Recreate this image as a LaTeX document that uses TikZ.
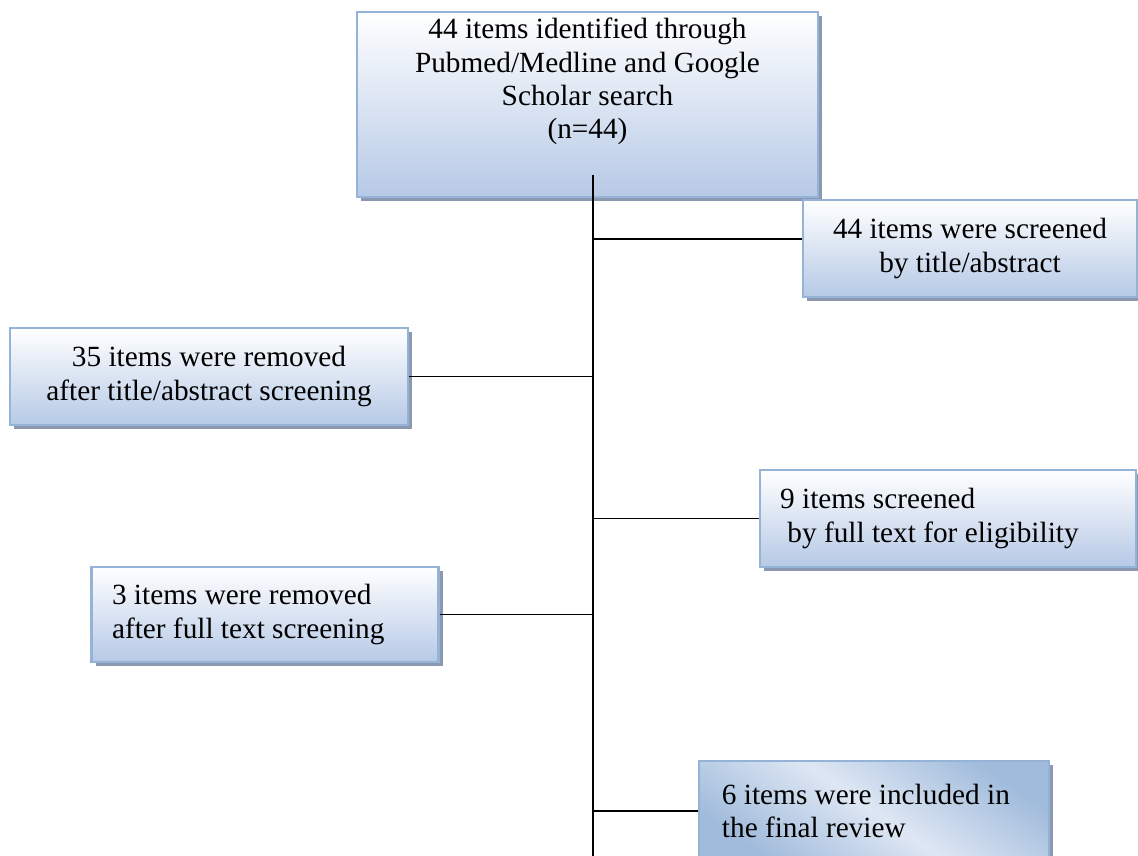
\documentclass[tikz,border=0pt]{standalone}
\usepackage{fontspec}
\setmainfont{Liberation Serif}
\usepackage{tikz}
\usetikzlibrary{shadows,calc}
\definecolor{boxline}{RGB}{149,179,215}
\definecolor{boxfill}{RGB}{182,201,230}
\definecolor{boxshadow}{RGB}{140,152,176}
\tikzset{
  box/.style={draw=boxline,line width=0.9pt,top color=white,bottom color=boxfill,
    general shadow={fill=boxshadow,shadow xshift=1.7pt,shadow yshift=-1.7pt},
    font=\fontsize{12.3}{13.9}\selectfont,minimum height=40.7pt,inner ysep=0pt},
  leftbox/.style={box,align=flush left,inner xsep=8.6pt},
  link/.style={line width=0.8pt}
}
\begin{document}
\begin{tikzpicture}[x=0.42pt,y=-0.42pt]
      \useasboundingbox (0,0) rectangle (1138,855);
      \node[box,align=center,minimum width=193.6pt,minimum height=77.7pt,text depth=22pt] (search) at (587.5,104.5)
        {44 items identified through\\Pubmed/Medline and Google\\Scholar search\\(n=44)};
      \node[box,align=center,minimum width=140.3pt] (screenA) at (970,248.5)
        {44 items were screened\\by title/abstract};
      \node[box,align=center,minimum width=167.2pt] (removedA) at (209,376.5)
        {35 items were removed\\after title/abstract screening};
      \node[leftbox,text width=141pt] (screenB) at (948,518.5)
        {9 items screened\\\hspace{0.25em}by full text for eligibility};
      \node[leftbox,text width=128.5pt,minimum height=39.9pt] (removedB) at (265,614.5)
        {3 items were removed\\after full text screening};
      \node[leftbox,text width=127.7pt,inner xsep=9.6pt,minimum height=42pt,
        top color=boxline!90!white,bottom color=boxline!90!white,middle color=boxfill!45!white,shading angle=-35] (included) at (874,811)
        {6 items were included in\\the final review};
      \coordinate (spinetop) at (593,175);
      \coordinate (spinebot) at (593,860);
      \draw[link] (spinetop) -- (spinebot);
      \draw[link] ([yshift=4pt]screenA.west) -- ([yshift=4pt]screenA.west -| spinetop);
      \draw[link] (removedA.east) -- (removedA.east -| spinetop);
      \draw[link] (screenB.west) -- (screenB.west -| spinetop);
      \draw[link] (removedB.east) -- (removedB.east -| spinetop);
      \draw[link] (included.west) -- (included.west -| spinetop);
\end{tikzpicture}
\end{document}
